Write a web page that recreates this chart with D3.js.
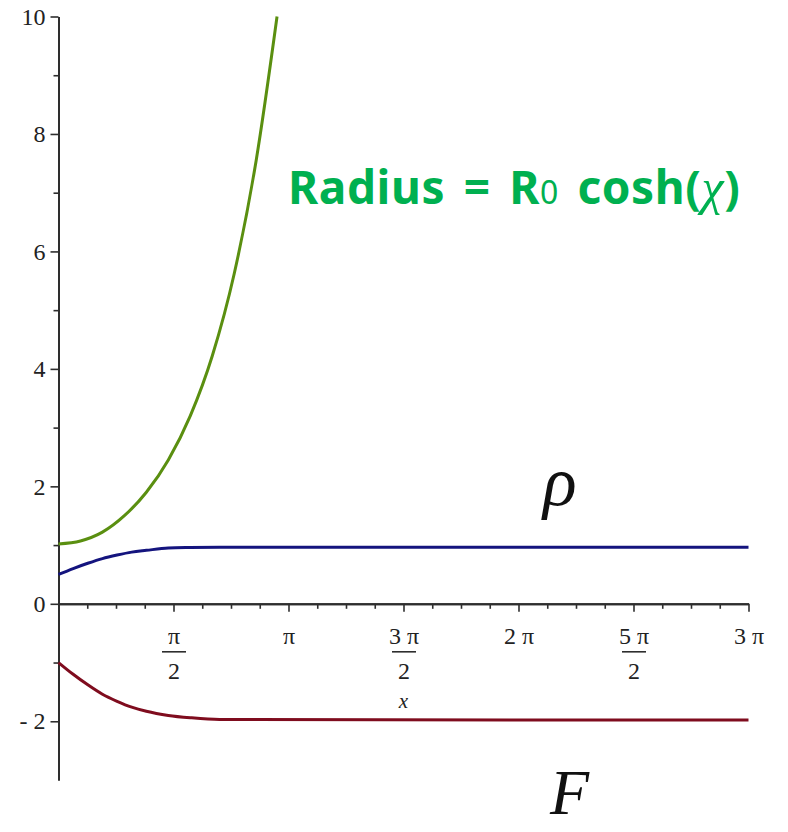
<!DOCTYPE html>
<html>
<head>
<meta charset="utf-8">
<script src="https://cdn.jsdelivr.net/npm/d3@7"></script>
<style>
  body { margin: 0; background: #fff; }
</style>
</head>
<body>
<div id="chart"></div>
<script>
const PI = Math.PI;

// green curve: radius
const greenX = [0, 0.3, 0.6, 0.9, 1.2, 1.5, 1.8, 2.1, 2.4, 2.7, 2.985];
const greenY = [1.02, 1.07, 1.22, 1.5, 1.9, 2.45, 3.2, 4.22, 5.62, 7.55, 10.0];

// blue curve: rho
const blueX = [0, 0.2, 0.4, 0.6, 0.8, 1.0, 1.2, 1.5, 1.8, 2.2, 3 * PI];
const blueY = [0.5, 0.6, 0.69, 0.77, 0.83, 0.88, 0.91, 0.95, 0.96, 0.965, 0.965];

// red curve: F
const redX = [0, 0.2, 0.4, 0.6, 0.8, 1.0, 1.2, 1.5, 1.8, 2.2, 3 * PI];
const redY = [-1.0, -1.2, -1.38, -1.54, -1.66, -1.76, -1.83, -1.9, -1.94, -1.97, -1.98];

// ticks
const yMajor = [-2, 0, 2, 4, 6, 8, 10];
const yMinor = [-1, 1, 3, 5, 7, 9];
const xMajorNum = ["π", "π", "3 π", "2 π", "5 π", "3 π"];
const xMajorDen = ["2", "", "2", "", "2", ""];

const width = 788, height = 832;

const svg = d3.select("#chart")
  .append("svg")
  .attr("width", width)
  .attr("height", height);

const x = d3.scaleLinear().domain([0, 3 * PI]).range([58.5, 748.5]);
const y = d3.scaleLinear().domain([-3, 10]).range([780, 16.5]);

const axisColor = "#2e2e2e";
const serif = "'Liberation Serif', 'DejaVu Serif', serif";

// x axis minor ticks (every pi/8)
const xMinorVals = d3.range(1, 25).filter(i => i % 4 !== 0).map(i => i * PI / 8);
const xMajorVals = d3.range(1, 7).map(i => i * PI / 2);

const xAxisMinor = svg.append("g")
  .attr("transform", `translate(0,${y(0)})`)
  .call(d3.axisBottom(x).tickValues(xMinorVals).tickSize(5).tickSizeOuter(0).tickFormat(""));

const xAxis = svg.append("g")
  .attr("transform", `translate(0,${y(0)})`)
  .call(d3.axisBottom(x).tickValues(xMajorVals).tickSize(8).tickSizeOuter(0).tickFormat(""));

xAxis.selectAll(".tick").each(function (d, i) {
  const g = d3.select(this);
  const num = xMajorNum[i], den = xMajorDen[i];
  g.append("text")
    .attr("fill", "#222")
    .attr("font-family", serif)
    .attr("font-size", 24)
    .attr("text-anchor", "middle")
    .attr("x", 0)
    .attr("y", 40)
    .text(num);
  if (den) {
    g.append("line")
      .attr("x1", -12).attr("x2", 12)
      .attr("y1", 48).attr("y2", 48)
      .attr("stroke", "#333").attr("stroke-width", 2);
    g.append("text")
      .attr("fill", "#222")
      .attr("font-family", serif)
      .attr("font-size", 24)
      .attr("text-anchor", "middle")
      .attr("x", 0)
      .attr("y", 75)
      .text(den);
  }
});

// y axis
const yAxisMinor = svg.append("g")
  .attr("transform", `translate(${x(0)},0)`)
  .call(d3.axisLeft(y).tickValues(yMinor).tickSize(5).tickSizeOuter(0).tickFormat(""));

const yAxis = svg.append("g")
  .attr("transform", `translate(${x(0)},0)`)
  .call(d3.axisLeft(y).tickValues(yMajor).tickSize(8).tickSizeOuter(0)
    .tickFormat(d => d < 0 ? "- " + Math.abs(d) : d));

yAxis.selectAll("text")
  .attr("font-family", serif)
  .attr("font-size", 24)
  .attr("fill", "#222")
  .attr("x", -13);

[xAxisMinor, xAxis, yAxisMinor, yAxis].forEach(a => {
  a.select(".domain").attr("stroke", axisColor).attr("stroke-width", 2);
  a.selectAll(".tick line").attr("stroke", axisColor).attr("stroke-width", 1.6);
});

// axis label
svg.append("text")
  .attr("x", x(3 * PI / 2))
  .attr("y", 708)
  .attr("text-anchor", "middle")
  .attr("font-family", serif)
  .attr("font-style", "italic")
  .attr("font-size", 21)
  .attr("fill", "#222")
  .text("x");

// curves
const line = d3.line()
  .x(d => x(d[0]))
  .y(d => y(d[1]))
  .curve(d3.curveMonotoneX);

const curves = [
  { xs: greenX, ys: greenY, color: "#5a8f10" },
  { xs: blueX, ys: blueY, color: "#14147e" },
  { xs: redX, ys: redY, color: "#7f0c1e" },
];

svg.selectAll("path.curve")
  .data(curves)
  .enter()
  .append("path")
  .attr("class", "curve")
  .attr("fill", "none")
  .attr("stroke", d => d.color)
  .attr("stroke-width", 3)
  .attr("d", d => line(d.xs.map((v, i) => [v, d.ys[i]])));

// annotations
const title = svg.append("text")
  .attr("x", 288)
  .attr("y", 204)
  .attr("fill", "#00b050")
  .attr("font-family", "'Noto Sans', 'Open Sans', sans-serif")
  .attr("font-weight", "bold")
  .attr("font-size", 46)
  .attr("letter-spacing", 0.6)
  .attr("word-spacing", 6);
title.append("tspan").text("Radius = R");
title.append("tspan").attr("font-size", 32).attr("font-weight", "normal").text("0");
title.append("tspan").text(" cosh(");
title.append("tspan")
  .attr("font-family", serif)
  .attr("font-style", "italic")
  .attr("font-weight", "normal")
  .attr("font-size", 50)
  .text("χ");
title.append("tspan").text(")");

svg.append("text")
  .attr("x", 543)
  .attr("y", 505)
  .attr("font-family", serif)
  .attr("font-style", "italic")
  .attr("font-size", 70)
  .attr("fill", "#111")
  .text("ρ");

svg.append("text")
  .attr("x", 550)
  .attr("y", 814)
  .attr("font-family", serif)
  .attr("font-style", "italic")
  .attr("font-size", 64)
  .attr("fill", "#111")
  .text("F");
</script>
</body>
</html>
